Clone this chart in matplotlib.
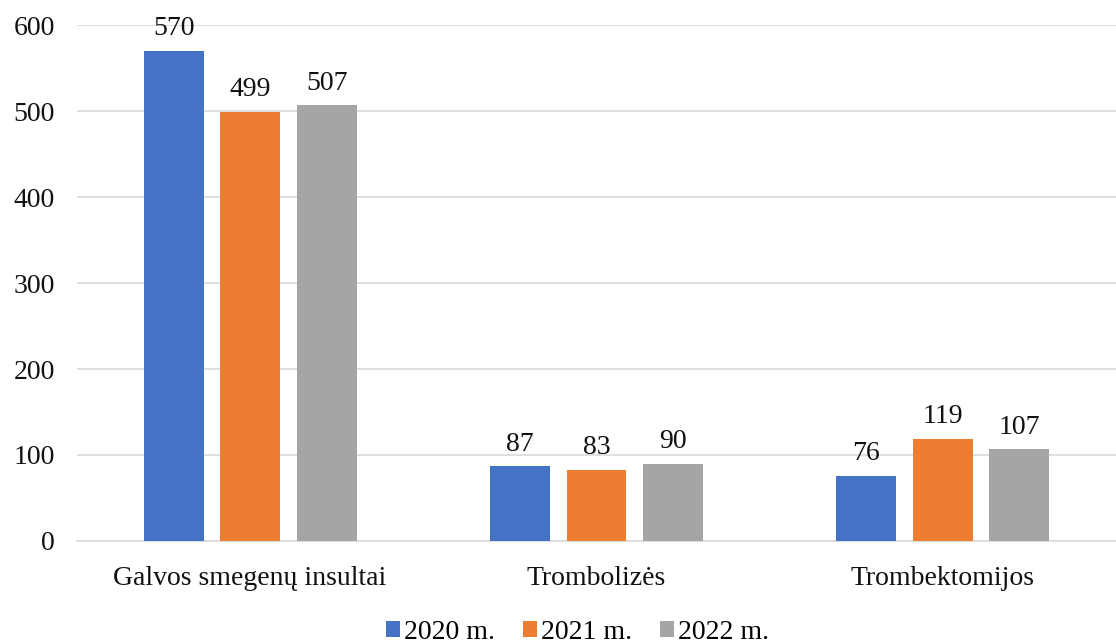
import numpy as np
import matplotlib.pyplot as plt

# Data
categories = ['Galvos smegenų insultai', 'Trombolizės', 'Trombektomijos']
series = ['2020 m.', '2021 m.', '2022 m.']
values_2020 = [570, 87, 76]
values_2021 = [499, 83, 119]
values_2022 = [507, 90, 107]
colors = ['#4472C4', '#ED7D31', '#A5A5A5']

plt.rcParams['font.family'] = ['Liberation Serif', 'DejaVu Serif']

fig = plt.figure(figsize=(11.16, 6.44), dpi=100)
ax = fig.add_axes([0.069, 0.16, 0.931, 0.801])

x = np.arange(len(categories))
width = 0.173
offset = 0.221

for i, (vals, name, col) in enumerate(zip([values_2020, values_2021, values_2022], series, colors)):
    bars = ax.bar(x + (i - 1) * offset, vals, width, color=col, label=name, zorder=3)
    for b, v in zip(bars, vals):
        ax.text(b.get_x() + b.get_width() / 2, v + 11, str(v), ha='center', va='bottom',
                fontsize=20, color='#111111')

ax.set_xlim(-0.5, 2.5)
ax.set_ylim(0, 600)
ax.set_yticks(range(0, 601, 100))
ax.set_xticks(x)
ax.set_xticklabels(categories)
ax.yaxis.grid(True, color='#D9D9D9', linewidth=1.2, zorder=0)
for s in ['top', 'right', 'left']:
    ax.spines[s].set_visible(False)
ax.spines['bottom'].set_color('#D9D9D9')
ax.spines['bottom'].set_linewidth(1.2)
ax.tick_params(axis='both', length=0, labelsize=20, colors='#111111')
ax.tick_params(axis='y', pad=16)
ax.tick_params(axis='x', pad=18)

ax.legend(loc='center', bbox_to_anchor=(0.482, -0.177), ncol=3, frameon=False, fontsize=20,
          handlelength=0.5, handleheight=0.5, handletextpad=0.15, columnspacing=1.0)

fig.savefig('out.png', dpi=100)
